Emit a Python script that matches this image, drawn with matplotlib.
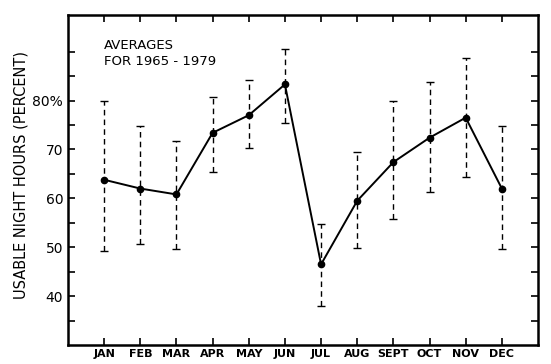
import numpy as np
import matplotlib.pyplot as plt

months = ['JAN', 'FEB', 'MAR', 'APR', 'MAY', 'JUN', 'JUL', 'AUG', 'SEPT', 'OCT', 'NOV', 'DEC']
avg = [63.8, 62.0, 60.8, 73.4, 77.0, 83.3, 46.5, 59.5, 67.4, 72.4, 76.5, 62.0]
hi = [80.0, 74.8, 71.8, 80.8, 84.2, 90.6, 54.8, 69.4, 80.0, 83.8, 88.8, 74.7]
lo = [49.2, 50.6, 49.6, 65.4, 70.2, 75.4, 38.0, 49.8, 55.8, 61.2, 64.4, 49.6]

x = np.arange(1, 13)
avg = np.array(avg)
yerr = [avg - np.array(lo), np.array(hi) - avg]

fig = plt.figure(figsize=(5.51, 3.64), dpi=100)
ax = fig.add_axes([0.1234, 0.0522, 0.8530, 0.9066])

eb = ax.errorbar(x, avg, yerr=yerr, fmt='none', ecolor='black', elinewidth=1.0,
                 capsize=3, capthick=1.0)
eb[2][0].set_linestyle((0, (4, 3)))
ax.plot(x, avg, '-o', color='black', lw=1.4, ms=4.5)

ax.set_xlim(0, 13)
ax.set_ylim(30, 97.5)
ax.set_xticks(x)
ax.set_xticklabels(months, fontsize=8, fontweight='bold')
ax.set_yticks([40, 50, 60, 70, 80])
ax.set_yticklabels(['40', '50', '60', '70', '80%'], fontsize=10)
ax.set_yticks(np.arange(35, 95, 5), minor=True)
ax.tick_params(axis='both', which='both', direction='in', length=5, width=1.2,
               top=True, right=True)
ax.tick_params(axis='y', which='minor', left=True, right=True)
ax.tick_params(axis='x', pad=3)
for s in ax.spines.values():
    s.set_linewidth(1.8)

ax.set_ylabel('USABLE NIGHT HOURS (PERCENT)', fontsize=10.5)
ax.yaxis.set_label_coords(-0.085, 0.515)
ax.text(1.0, 92.5, 'AVERAGES\nFOR 1965 - 1979', fontsize=9.5, va='top',
        ha='left', linespacing=1.3)

plt.savefig('out.png')
